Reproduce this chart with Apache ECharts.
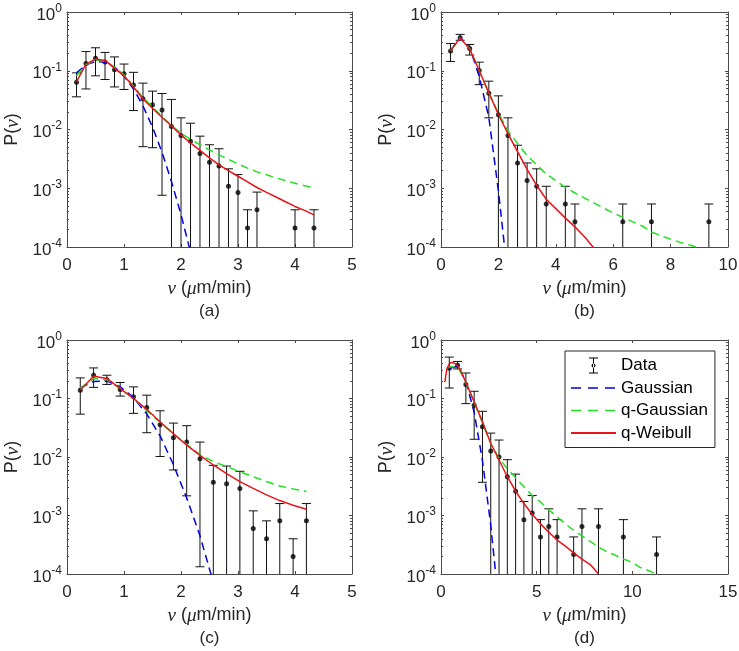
<!DOCTYPE html>
<html><head><meta charset="utf-8">
<script src="https://cdn.jsdelivr.net/npm/echarts@6/dist/echarts.min.js"></script>
<style>html,body{margin:0;padding:0;background:#fff}#c{width:739px;height:651px}</style>
</head><body><div id="c"></div>
<script>
// ---------------- Panel (a) ----------------
const aX   = [0.167,0.333,0.5,0.667,0.833,1.0,1.167,1.333,1.5,1.667,1.833,2.0,2.167,2.333,2.5,2.667,2.833,3.0,3.167,3.333,4.0,4.333];
const aY   = [0.064,0.133,0.163,0.141,0.104,0.089,0.057,0.0333,0.0265,0.0214,0.0112,0.0079,0.0063,0.0039,0.00277,0.0024,0.00108,0.00085,0.00021,0.00043,0.00021,0.00021];
const aHi  = [0.092,0.212,0.246,0.205,0.172,0.13,0.094,0.0616,0.045,0.041,0.0325,0.0158,0.0128,0.0077,0.0055,0.0047,0.00214,0.00171,0.00043,0.00086,0.00043,0.00043];
const aLo  = [0.036,0.049,0.082,0.071,0.053,0.048,0.021,0.0051,0.0049,0.00076,0,0,0,0,0,0,0,0,0,0,0,0];
const aCurveX = [0.167,0.333,0.5,0.667,0.833,1.0,1.167,1.333,1.5,1.667,1.833,2.0,2.167,2.333,2.5,2.667,2.833,3.0,3.167,3.333,3.5,3.667,3.833,4.0,4.167,4.333];
const aGauss  = [0.092,0.126,0.1435,0.139,0.115,0.081,0.0488,0.0251,0.011,0.0041,0.0013,0.000356,0.0000824];
const aQGauss = [0.082,0.128,0.15,0.146,0.116,0.085,0.055,0.035,0.024,0.0165,0.0118,0.0086,0.0068,0.0055,0.0045,0.0037,0.0031,0.0026,0.0022,0.0019,0.0017,0.0015,0.00135,0.00122,0.0011,0.00102];
const aQWeib  = [0.065,0.13,0.158,0.15,0.111,0.082,0.053,0.033,0.023,0.0162,0.0115,0.0081,0.0059,0.0044,0.0033,0.0025,0.002,0.0016,0.00128,0.00103,0.00085,0.00071,0.00059,0.00049,0.00042,0.000353];

// ---------------- Panel (b) ----------------
const bX   = [0.333,0.667,1.0,1.333,1.667,2.0,2.333,2.667,3.0,3.333,3.667,4.333,4.667,6.333,7.333,9.333];
const bY   = [0.216,0.366,0.24,0.101,0.0415,0.0178,0.0079,0.0027,0.00135,0.00108,0.00054,0.00054,0.00027,0.00027,0.00027,0.00027];
const bHi  = [0.29,0.416,0.28,0.14,0.0665,0.0374,0.0158,0.0054,0.0027,0.00214,0.00108,0.00108,0.00054,0.00054,0.00054,0.00054];
const bLo  = [0.144,0.33,0.185,0.058,0.0158,0,0,0,0,0,0,0,0,0,0,0];
const bCurveX = [0.333,0.667,1.0,1.333,1.667,2.0,2.333,2.667,3.0,3.333,3.667,4.0,4.333,4.667,5.0,5.333,5.667,6.0,6.333,6.667,7.0,7.333,7.667,8.0,8.333,8.667,9.0];
const bGauss  = [0.22,0.37,0.25,0.08,0.016,0.0009,0.00003];
const bQGauss = [0.22,0.36,0.24,0.1,0.042,0.019,0.0095,0.0058,0.0036,0.0025,0.00175,0.00135,0.00103,0.00083,0.00068,0.00056,0.00046,0.00038,0.00032,0.00027,0.00023,0.00018,0.000155,0.000136,0.00012,0.000108,0.000096];
const bQWeib  = [0.22,0.36,0.235,0.1,0.042,0.018,0.0085,0.0042,0.0021,0.00112,0.00065,0.00045,0.00031,0.00022,0.00015,0.000095];

// ---------------- Panel (c) ----------------
const cX   = [0.233,0.467,0.7,0.933,1.167,1.4,1.633,1.867,2.1,2.333,2.567,2.8,3.033,3.267,3.5,3.733,3.967,4.2];
const cY   = [0.139,0.25,0.21,0.143,0.107,0.0705,0.0356,0.0214,0.0181,0.0093,0.0037,0.0035,0.0029,0.0006,0.0004,0.00081,0.0002,0.00081];
const cHi  = [0.225,0.333,0.25,0.188,0.158,0.114,0.0617,0.038,0.0343,0.018,0.0072,0.007,0.0057,0.0012,0.00081,0.0016,0.0004,0.0016];
const cLo  = [0.054,0.155,0.174,0.11,0.0557,0.026,0.0102,0.006,0.00217,0.000133,0,0,0,0,0,0,0,0];
const cCurveX = [0.233,0.467,0.7,0.933,1.167,1.4,1.633,1.867,2.1,2.333,2.567,2.8,3.033,3.267,3.5,3.733,3.967,4.2];
const cGauss  = [0.152,0.196,0.198,0.159,0.104,0.054,0.023,0.0074,0.002,0.00045,0.000072];
const cQGauss = [0.15,0.22,0.21,0.15,0.1,0.062,0.039,0.025,0.0165,0.011,0.0083,0.0069,0.0056,0.0046,0.0038,0.0032,0.00285,0.00257];
const cQWeib  = [0.14,0.24,0.22,0.148,0.1,0.065,0.04,0.025,0.016,0.0107,0.0073,0.0052,0.0038,0.0029,0.00225,0.0018,0.0015,0.00128];

// ---------------- Panel (d) ----------------
const dX   = [0.433,0.867,1.3,1.733,2.167,2.6,3.033,3.467,3.9,4.333,4.767,5.2,5.633,6.067,6.933,7.367,8.233,9.533,11.267];
const dY   = [0.33,0.37,0.173,0.0765,0.033,0.0127,0.01,0.0046,0.0026,0.00085,0.0011,0.00043,0.00065,0.00043,0.000216,0.00065,0.00065,0.00043,0.000216];
const dHi  = [0.51,0.43,0.273,0.133,0.0604,0.0256,0.0195,0.009,0.0051,0.00173,0.0022,0.00085,0.0013,0.00085,0.00043,0.0013,0.0013,0.00085,0.00043];
const dLo  = [0.151,0.32,0.0817,0.0201,0.0037,0,0,0,0,0,0,0,0,0,0,0,0,0,0];
const dGaussX  = [0.433,0.867,1.3,1.733,2.167,2.6,3.033];
const dGauss   = [0.33,0.355,0.198,0.058,0.0087,0.00068,0.000028];
const dQGaussX = [0.3,0.433,0.867,1.3,1.733,2.167,2.6,3.033,3.467,3.9,4.333,4.767,5.2,5.633,6.067,6.5,6.933,7.367,7.8,8.233,8.667,9.1,9.533,9.967,10.4,10.833,11.267];
const dQGauss  = [0.33,0.345,0.35,0.19,0.085,0.038,0.017,0.0095,0.0063,0.0044,0.0031,0.0022,0.0017,0.00125,0.00095,0.00072,0.00056,0.00045,0.00036,0.00029,0.00024,0.00021,0.00018,0.00016,0.00013,0.000115,0.0001];
const dQWeibX  = [0.2,0.3,0.433,0.55,0.7,0.867,1.0,1.3,1.733,2.167,2.6,3.033,3.467,3.9,4.333,4.767,5.2,5.633,6.067,6.5,6.933,7.367,7.8,8.233];
const dQWeib   = [0.19,0.31,0.39,0.415,0.4,0.36,0.31,0.19,0.088,0.04,0.017,0.0089,0.0046,0.0026,0.0016,0.00105,0.00072,0.00052,0.00038,0.0003,0.00023,0.00018,0.000145,0.0001];

// ---------------- Axis settings ----------------
const xMaxes     = [5, 10, 5, 15];
const xIntervals = [1, 2, 1, 5];
const panelTags  = ['(a)', '(b)', '(c)', '(d)'];
const seriesNames = ['Data', 'Gaussian', 'q-Gaussian', 'q-Weibull'];

const zip = (xs, ys) => ys.map((y, i) => [xs[i], y]);

const panels = [
  {x:aX, y:aY, hi:aHi, lo:aLo, g:zip(aCurveX,aGauss), qg:zip(aCurveX,aQGauss), qw:zip(aCurveX,aQWeib)},
  {x:bX, y:bY, hi:bHi, lo:bLo, g:zip(bCurveX,bGauss), qg:zip(bCurveX,bQGauss), qw:zip(bCurveX,bQWeib)},
  {x:cX, y:cY, hi:cHi, lo:cLo, g:zip(cCurveX,cGauss), qg:zip(cCurveX,cQGauss), qw:zip(cCurveX,cQWeib)},
  {x:dX, y:dY, hi:dHi, lo:dLo, g:zip(dGaussX,dGauss), qg:zip(dQGaussX,dQGauss), qw:zip(dQWeibX,dQWeib)}
];

const FONT = '"Liberation Sans", Arial, Helvetica, sans-serif';
const SERIF = '"Liberation Serif", "DejaVu Serif", serif';
const TXT = '#262626';
const AX = '#4a4a4a';

const gridRects = [
  {left:67,  top:12,  width:285, height:235},
  {left:441, top:12,  width:287, height:235},
  {left:67,  top:340, width:285, height:234},
  {left:441, top:340, width:287, height:234}
];

const grids = [], xAxes = [], yAxes = [], series = [];

function errRender(params, api) {
  const x = api.value(0), hi = api.value(2), lo = api.value(3);
  const cs = params.coordSys;
  const t = api.coord([x, hi]);
  const by = lo > 0 ? api.coord([x, lo])[1] : cs.y + cs.height;
  const w = 4.5;
  const st = {stroke:'#111', lineWidth:1};
  const ch = [
    {type:'line', shape:{x1:t[0], y1:t[1], x2:t[0], y2:by}, style:st},
    {type:'line', shape:{x1:t[0]-w, y1:t[1], x2:t[0]+w, y2:t[1]}, style:st}
  ];
  if (lo > 0) ch.push({type:'line', shape:{x1:t[0]-w, y1:by, x2:t[0]+w, y2:by}, style:st});
  return {type:'group', children: ch};
}

const yLabelFmt = v => {
  const e = Math.round(Math.log10(v));
  return '{b|10}{s|' + e + '}';
};
const yRich = {
  b: {fontSize:17, fontFamily:FONT, color:TXT, verticalAlign:'bottom', lineHeight:23},
  s: {fontSize:12, fontFamily:FONT, color:TXT, verticalAlign:'bottom', lineHeight:23, padding:[0,0,9,0]}
};

panels.forEach((p, i) => {
  grids.push(Object.assign({containLabel:false, outerBoundsMode:'none', show:false}, gridRects[i]));
  const xBase = {
    type:'value', gridIndex:i, min:0, max:xMaxes[i], interval:xIntervals[i],
    splitLine:{show:false},
    axisLine:{show:true, onZero:false, lineStyle:{color:AX, width:1}},
    axisTick:{show:true, inside:true, length:3, lineStyle:{color:AX}}
  };
  xAxes.push(Object.assign({}, xBase, {
    position:'bottom',
    axisLabel:{show:true, fontSize:17, fontFamily:FONT, color:TXT, margin:10},
    name:'{i|ν} ({i|μ}m/min)\n{n|' + panelTags[i] + '}',
    nameLocation:'middle', nameGap:30,
    nameTextStyle:{fontSize:18, fontFamily:FONT, color:TXT, lineHeight:23,
      rich:{i:{fontSize:19, fontFamily:SERIF, fontStyle:'italic', color:TXT, lineHeight:23},
            n:{fontSize:17, fontFamily:FONT, color:TXT, lineHeight:23}}}
  }));
  xAxes.push(Object.assign({}, xBase, {position:'top', axisLabel:{show:false}}));
  const yBase = {
    type:'log', logBase:10, gridIndex:i, min:0.0001, max:1, interval:1,
    splitLine:{show:false}, minorSplitLine:{show:false},
    axisLine:{show:true, onZero:false, lineStyle:{color:AX, width:1}},
    axisTick:{show:true, inside:true, length:3, lineStyle:{color:AX}},
    minorTick:{show:true, splitNumber:9, length:2, lineStyle:{color:AX}}
  };
  yAxes.push(Object.assign({}, yBase, {
    position:'left',
    axisLabel:{show:true, margin:5, formatter:yLabelFmt, rich:yRich},
    name:'P({i|ν})', nameLocation:'middle', nameGap:45, nameRotate:90,
    nameTextStyle:{fontSize:18, fontFamily:FONT, color:TXT,
      rich:{i:{fontSize:19, fontFamily:SERIF, fontStyle:'italic', color:TXT}}}
  }));
  yAxes.push(Object.assign({}, yBase, {position:'right', axisLabel:{show:false}}));

  const xa = 2*i, ya = 2*i;
  series.push({
    type:'custom', name:'Data', xAxisIndex:xa, yAxisIndex:ya, clip:true, z:2,
    renderItem:errRender, itemStyle:{color:'#000'},
    encode:{x:0, y:1},
    data: p.x.map((x, k) => [x, p.y[k], p.hi[k], p.lo[k]])
  });
  series.push({
    type:'scatter', name:'Data', xAxisIndex:xa, yAxisIndex:ya, z:3,
    symbol:'circle', symbolSize:5, itemStyle:{color:'#000'},
    data: zip(p.x, p.y)
  });
  const lineDef = (name, data, color, type) => ({
    type:'line', name, xAxisIndex:xa, yAxisIndex:ya, data, z:4,
    symbol:'none', showSymbol:false, smooth:false, clip:true,
    lineStyle:{color, width:1.5, type}, itemStyle:{color}
  });
  series.push(lineDef('Gaussian', p.g, '#0000e6', [8,5]));
  series.push(lineDef('q-Gaussian', p.qg, '#22e022', [8,5]));
  series.push(lineDef('q-Weibull', p.qw, '#e8141a', 'solid'));
});

const dataIcon = 'path://M0,8L0.01,8L0,8.01ZM45,8L44.99,8L45,8.01ZM18,0H27V1H23V15H27V16H18V15H22V1H18ZM20.5,8A2,2,0,1,0,24.5,8A2,2,0,1,0,20.5,8Z';
const hiddenSym = {color:'rgba(0,0,0,0)', borderWidth:0, opacity:0};
const legendDash = {type:[10,7], width:1.5};

const chart = echarts.init(document.getElementById('c'), null, {renderer:'canvas'});
chart.setOption({
  animation:false,
  backgroundColor:'#fff',
  grid:grids, xAxis:xAxes, yAxis:yAxes, series,
  legend:{
    orient:'vertical', left:565, top:351, itemWidth:45, itemHeight:16, itemGap:5.5,
    padding:[6,7,6,5], borderColor:'#262626', borderWidth:1, backgroundColor:'#fff',
    selectedMode:false,
    textStyle:{fontSize:17, fontFamily:FONT, color:'#000'},
    data:[
      {name:seriesNames[0], icon:dataIcon},
      {name:seriesNames[1], itemStyle:hiddenSym, lineStyle:legendDash},
      {name:seriesNames[2], itemStyle:hiddenSym, lineStyle:legendDash},
      {name:seriesNames[3], itemStyle:hiddenSym}
    ]
  }
});
</script></body></html>
